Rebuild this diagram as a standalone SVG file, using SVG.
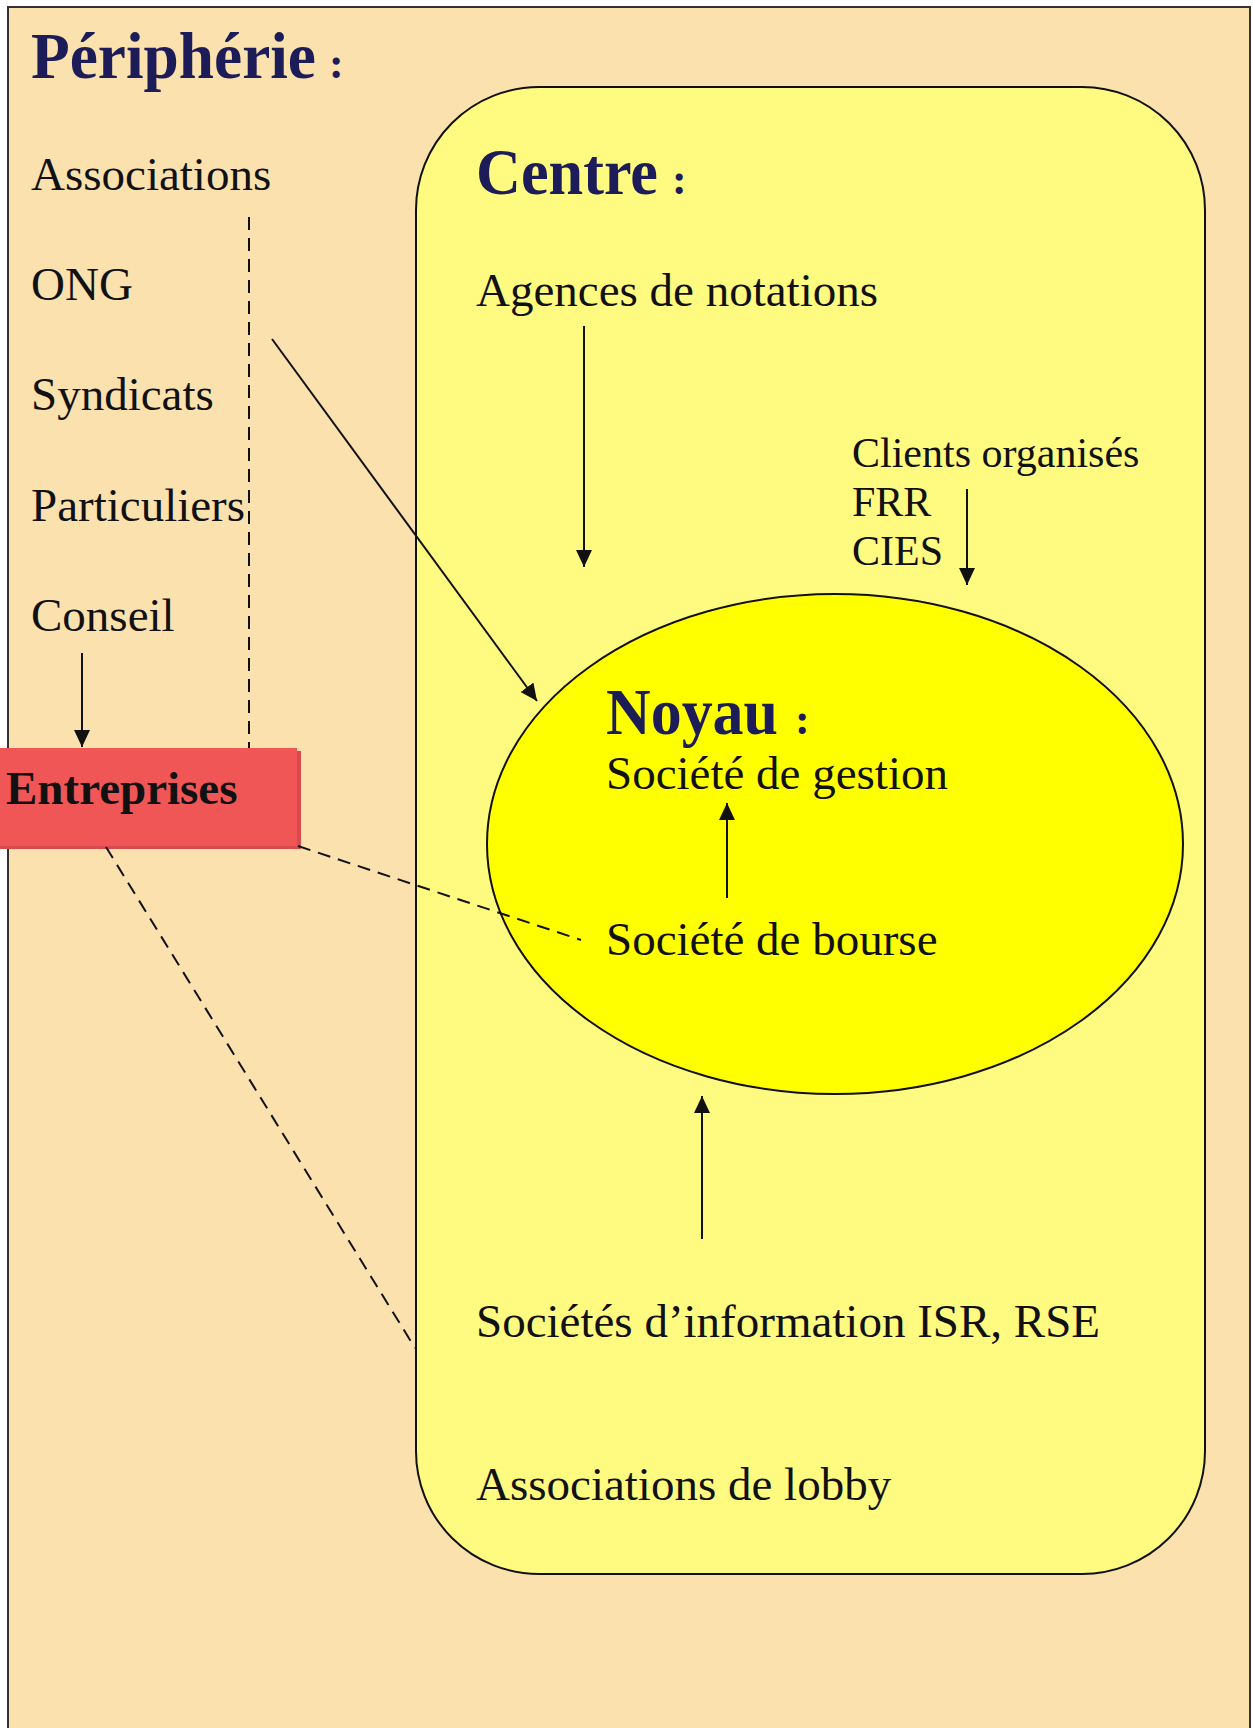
<svg xmlns="http://www.w3.org/2000/svg" width="1253" height="1728" viewBox="0 0 1253 1728">
<defs>
<marker id="ah" markerUnits="userSpaceOnUse" markerWidth="17" markerHeight="16" refX="17" refY="8" orient="auto">
<path d="M0,0 L17,8 L0,16 z" fill="#111"/>
</marker>
<style>
.t{font-family:"Liberation Serif","Times New Roman",serif;font-size:47px;fill:#111}
.s{font-size:42px}
.h{font-family:"Liberation Serif","Times New Roman",serif;font-weight:bold;font-size:66px;fill:#1c1c58}
.c{font-size:44px}
.ln{stroke:#111;stroke-width:2;fill:none}
.ar{stroke:#111;stroke-width:2;fill:none;marker-end:url(#ah)}
.da{stroke:#111;stroke-width:2;fill:none;stroke-dasharray:13 8}
</style>
</defs>
<rect x="0" y="0" width="1253" height="1728" fill="#ffffff"/>
<g id="peripherie">
<rect x="8" y="7" width="1242" height="1740" fill="#fae1ae" stroke="#333" stroke-width="2"/>
<text class="h" x="31" y="78" textLength="285" lengthAdjust="spacingAndGlyphs">Périphérie</text>
<text class="h c" x="329" y="78">:</text>
<text class="t" x="31" y="190">Associations</text>
<text class="t" x="31" y="300">ONG</text>
<text class="t" x="31" y="410">Syndicats</text>
<text class="t" x="31" y="521">Particuliers</text>
<text class="t" x="31" y="631">Conseil</text>
</g>
<g id="centre">
<rect x="416" y="87" width="789" height="1487" rx="123" ry="123" fill="#fefb80" stroke="#111" stroke-width="2"/>
<text class="h" x="476" y="194" textLength="182" lengthAdjust="spacingAndGlyphs">Centre</text>
<text class="h c" x="672" y="194">:</text>
<text class="t" x="476" y="306">Agences de notations</text>
<text class="t s" x="852" y="467">Clients organisés</text>
<text class="t s" x="852" y="516">FRR</text>
<text class="t s" x="852" y="565">CIES</text>
<text class="t" x="476" y="1337">Sociétés d’information ISR, RSE</text>
<text class="t" x="476" y="1500">Associations de lobby</text>
</g>
<g id="noyau">
<ellipse cx="835" cy="844" rx="348" ry="250" fill="#ffff00" stroke="#111" stroke-width="2"/>
<text class="h" x="606" y="734" textLength="172" lengthAdjust="spacingAndGlyphs">Noyau</text>
<text class="h c" x="795" y="734">:</text>
<text class="t" x="606" y="789">Société de gestion</text>
<text class="t" x="606" y="955">Société de bourse</text>
</g>
<g id="entreprises">
<rect x="0" y="751" width="301" height="98" fill="#d94a4c"/>
<rect x="0" y="748" width="297" height="98" fill="#f15657"/>
<text class="t" x="6" y="804" style="font-weight:bold">Entreprises</text>
</g>
<g id="connectors">
<line class="ar" x1="584" y1="326" x2="584" y2="567"/>
<line class="ar" x1="967" y1="489" x2="967" y2="585"/>
<line class="ar" x1="272" y1="339" x2="537" y2="701"/>
<line class="ar" x1="82" y1="653" x2="82" y2="747"/>
<line class="ar" x1="727" y1="898" x2="727" y2="803"/>
<line class="ar" x1="702" y1="1239" x2="702" y2="1096"/>
<line class="da" x1="249" y1="217" x2="249" y2="748"/>
<line class="da" x1="298" y1="846" x2="581" y2="940"/>
<line class="da" x1="106" y1="847" x2="415" y2="1348"/>
</g>
</svg>
